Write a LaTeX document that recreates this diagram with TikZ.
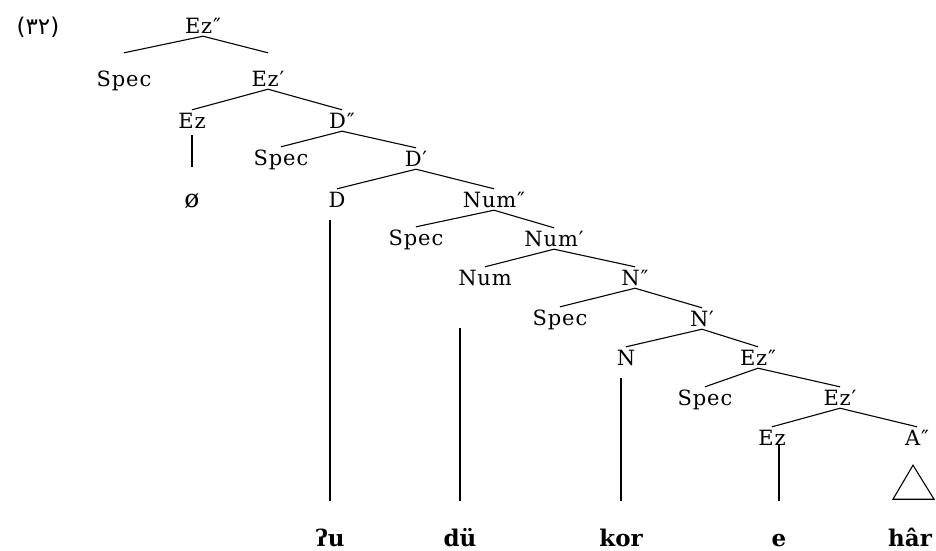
\documentclass[tikz,border=0pt]{standalone}
\usepackage{fontspec}
\setmainfont{DejaVu Serif}
\newfontfamily\catfont[LetterSpace=4]{DejaVu Serif}
\newfontfamily\arabicfont[Script=Arabic]{DejaVu Sans}
\usepackage{tikz}

\tikzset{
    cat/.style={anchor=base, inner sep=1pt, text height=17pt, text depth=2pt,
        font=\catfont\fontsize{21}{21}\selectfont},
    word/.style={anchor=base, inner sep=1pt, text height=18pt, text depth=2pt,
        font=\bfseries\fontsize{23}{23}\selectfont},
    branch/.style={line width=1.1pt},
    stem/.style={line width=1.2pt, shorten <=10pt, shorten >=26pt}
}

\begin{document}
\begin{tikzpicture}[x=1pt, y=-1pt]
\useasboundingbox (0,0) rectangle (936,550);

\node[anchor=base, font=\arabicfont\fontsize{23}{23}\selectfont] (exnum) at (38,34) {(۳۲)};

\node[cat] (ezmax) at (203,33) {Ez″};
\node[cat] (spec1) at (124,86) {Spec};
\node[cat] (ezbar) at (268,86) {Ez′};
\node[cat] (ez) at (192,128) {Ez};
\node[cat] (dmax) at (342,128) {D″};
\node[cat, font=\catfont\fontsize{25}{25}\selectfont] (null) at (192,207) {ø};
\node[cat] (spec2) at (281,165) {Spec};
\node[cat] (dbar) at (416,166) {D′};
\node[cat] (d) at (337,207) {D};
\node[cat] (nummax) at (494,207) {Num″};
\node[cat] (spec3) at (416,245) {Spec};
\node[cat] (numbar) at (554,246) {Num′};
\node[cat] (num) at (485,285) {Num};
\node[cat] (nmax) at (635,285) {N″};
\node[cat] (spec4) at (560,325) {Spec};
\node[cat] (nbar) at (702,326) {N′};
\node[cat] (n) at (626,365) {N};
\node[cat] (ezmaxb) at (758,365) {Ez″};
\node[cat] (spec5) at (705,405) {Spec};
\node[cat] (ezbarb) at (840,405) {Ez′};
\node[cat] (ezb) at (772,445) {Ez};
\node[cat] (amax) at (917,445) {A″};

\node[word] (qu) at (330,546) {ʔu};
\node[word] (du) at (460,546) {dü};
\node[word] (kor) at (621,546) {kor};
\node[word] (e) at (779,546) {e};
\node[word] (har) at (910,546) {hâr};

\draw[branch] (ezmax.south) -- ([yshift=15pt]spec1.north);
\draw[branch] (ezmax.south) -- ([yshift=15pt]ezbar.north);
\draw[branch] (ezbar.south) -- (ez.north);
\draw[branch] (ezbar.south) -- (dmax.north);
\draw[branch] (dmax.south) -- (spec2.north);
\draw[branch] (dmax.south) -- (dbar.north);
\draw[branch] (dbar.south) -- (d.north);
\draw[branch] (dbar.south) -- (nummax.north);
\draw[branch] (nummax.south) -- (spec3.north);
\draw[branch] (nummax.south) -- (numbar.north);
\draw[branch] (numbar.south) -- (num.north);
\draw[branch] (numbar.south) -- (nmax.north);
\draw[branch] (nmax.south) -- (spec4.north);
\draw[branch] (nmax.south) -- (nbar.north);
\draw[branch] (nbar.south) -- (n.north);
\draw[branch] (nbar.south) -- (ezmaxb.north);
\draw[branch] (ezmaxb.south) -- (spec5.north);
\draw[branch] (ezmaxb.south) -- (ezbarb.north);
\draw[branch] (ezbarb.south) -- (ezb.north);
\draw[branch] (ezbarb.south) -- (amax.north);

\draw[stem, shorten <=4pt, shorten >=22pt] (ez.south) -- (null.north);
\draw[stem] (qu |- d.south) -- (qu.north);
\draw[stem, shorten <=40pt] (du |- num.south) -- (du.north);
\draw[stem] (kor |- n.south) -- (kor.north);
\draw[stem, shorten <=-3pt] (e |- ezb.south) -- (e.north);
\draw[branch] ([xshift=3pt, yshift=-17pt]har |- amax.south) -- ++(-20,34) -- ++(41,0) -- cycle;
\end{tikzpicture}
\end{document}
